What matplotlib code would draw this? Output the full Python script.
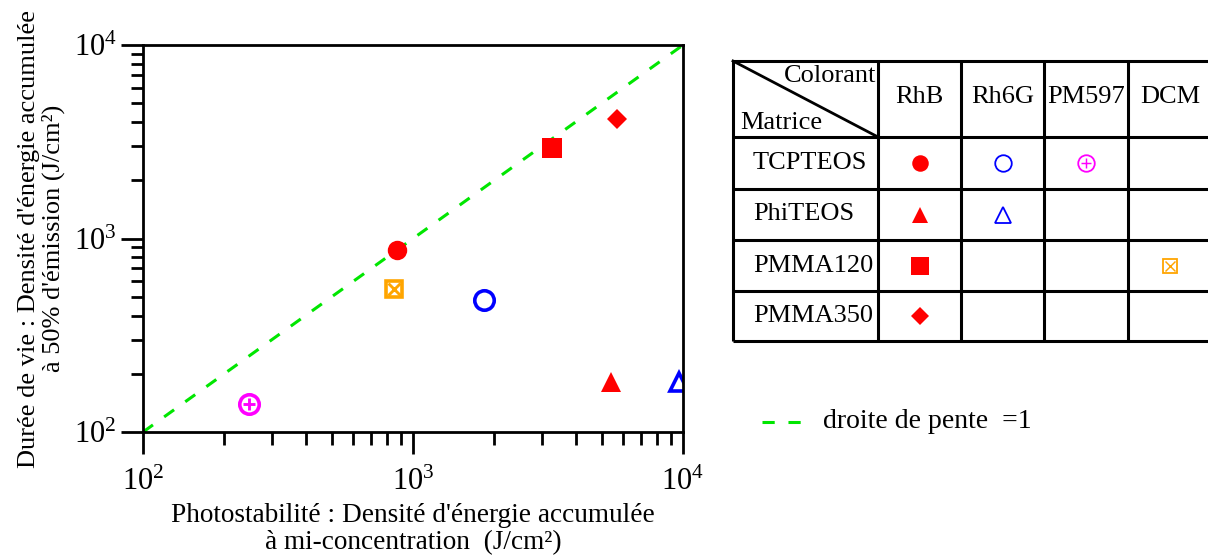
import matplotlib
matplotlib.use("Agg")
import matplotlib.pyplot as plt

plt.rcParams['font.family'] = ['Liberation Serif', 'DejaVu Serif']
plt.rcParams['mathtext.fontset'] = 'custom'
plt.rcParams['mathtext.rm'] = 'Liberation Serif'

# points: (photostabilite, duree de vie) per colorant / matrice
rhb_tcp = (873, 873)
rh6g_tcp = (1833, 481)
pm597_tcp = (247, 140)
rhb_phi = (5409, 181)
rh6g_phi = (9665, 181)
rhb_pm120 = (3273, 2938)
dcm_pm120 = (851, 548)
rhb_pm350 = (5697, 4150)

line_x = [100, 10000]
line_y = [100, 10000]

colorants = ["RhB", "Rh6G", "PM597", "DCM"]
matrices = ["TCPTEOS", "PhiTEOS", "PMMA120", "PMMA350"]

RED = "#ff0000"
BLUE = "#0000ff"
MAG = "#ff00ff"
ORA = "#ffa500"
GREEN = "#00e600"

fig = plt.figure(figsize=(12.08, 5.56), dpi=100)
ax = fig.add_axes([0.1184, 0.223, 0.447, 0.696])

ax.plot(line_x, line_y, '--', color=GREEN, lw=2.2, dashes=(4, 4.5), zorder=1)

def draw_markers(a, kind, x, y, big=True):
    s = 1.0 if big else 0.85
    lw = 2.6 if big else 1.3
    if kind == "rhb_tcp":
        a.plot(x, y, 'o', color=RED, ms=14 * s, mew=0)
    elif kind == "rh6g_tcp":
        a.plot(x, y, 'o', mfc='none', mec=BLUE, ms=14 * s, mew=lw)
    elif kind == "pm597_tcp":
        a.plot(x, y, 'o', mfc='none', mec=MAG, ms=14 * s, mew=lw)
        a.plot(x, y, '+', color=MAG, ms=8 * s, mew=lw * 0.8)
    elif kind == "rhb_phi":
        a.plot(x, y, '^', color=RED, ms=14 * s, mew=0)
    elif kind == "rh6g_phi":
        a.plot(x, y, '^', mfc='none', mec=BLUE, ms=13 * s, mew=lw)
    elif kind == "rhb_pm120":
        a.plot(x, y, 's', color=RED, ms=15 * s, mew=0)
    elif kind == "dcm_pm120":
        a.plot(x, y, 's', mfc='none', mec=ORA, ms=12 * s, mew=lw)
        a.plot(x, y, 'x', color=ORA, ms=9 * s, mew=lw * 0.8)
    elif kind == "rhb_pm350":
        a.plot(x, y, 'D', color=RED, ms=10.5 * s, mew=0)

points = {
    "rhb_tcp": rhb_tcp, "rh6g_tcp": rh6g_tcp, "pm597_tcp": pm597_tcp,
    "rhb_phi": rhb_phi, "rh6g_phi": rh6g_phi, "rhb_pm120": rhb_pm120,
    "dcm_pm120": dcm_pm120, "rhb_pm350": rhb_pm350,
}
for k, (px, py) in points.items():
    draw_markers(ax, k, px, py)

ax.set_xscale('log')
ax.set_yscale('log')
ax.set_xlim(100, 10000)
ax.set_ylim(100, 10000)
for sp in ax.spines.values():
    sp.set_linewidth(2)
ax.tick_params(which='major', direction='out', length=16, width=2, labelsize=22, pad=3)
ax.tick_params(which='minor', direction='out', length=9, width=2)
ax.tick_params(axis='x', which='major', pad=10)
ax.set_xlabel("Photostabilité : Densité d'énergie accumulée\nà mi-concentration  (J/cm²)",
              fontsize=19.6, linespacing=1.1, labelpad=4)
ax.set_ylabel("Durée de vie : Densité d'énergie accumulée\nà 50% d'émission (J/cm²)",
              fontsize=19, linespacing=1.1, labelpad=6)

# table drawn on an overlay in pixel coordinates
ov = fig.add_axes([0, 0, 1, 1])
ov.set_xlim(0, 1208)
ov.set_ylim(556, 0)
ov.axis('off')

col_x = [733, 878, 961, 1044, 1128, 1212]
row_y = [61, 137, 189, 240, 291, 341]
for xv in col_x:
    ov.plot([xv, xv], [row_y[0], row_y[-1]], color='black', lw=2.2, solid_capstyle='butt')
for yv in row_y:
    ov.plot([col_x[0], 1208], [yv, yv], color='black', lw=2.2, solid_capstyle='butt')
ov.plot([col_x[0], col_x[1]], [row_y[0], row_y[1]], color='black', lw=2)
ov.text(876, 76, "Colorant", fontsize=19, ha='right', va='center')
ov.text(740, 123, "Matrice", fontsize=19, ha='left', va='center')
for i, c in enumerate(colorants):
    ov.text((col_x[i + 1] + col_x[i + 2]) / 2, 97, c, fontsize=19, ha='center', va='center')
for j, m in enumerate(matrices):
    ov.text(753, (row_y[j + 1] + row_y[j + 2]) / 2, m, fontsize=19, ha='left', va='center')

cell = {
    "rhb_tcp": (0, 0), "rh6g_tcp": (1, 0), "pm597_tcp": (2, 0),
    "rhb_phi": (0, 1), "rh6g_phi": (1, 1),
    "rhb_pm120": (0, 2), "dcm_pm120": (3, 2),
    "rhb_pm350": (0, 3),
}
for k, (ci, ri) in cell.items():
    cx = (col_x[ci + 1] + col_x[ci + 2]) / 2
    cy = (row_y[ri + 1] + row_y[ri + 2]) / 2
    draw_markers(ov, k, cx, cy, big=False)

ov.plot([762, 812], [422, 422], '--', color=GREEN, lw=2.2, dashes=(4, 4.5))
ov.text(823, 422, "droite de pente  =1", fontsize=20, ha='left', va='center')

fig.savefig("out.png", dpi=100)
